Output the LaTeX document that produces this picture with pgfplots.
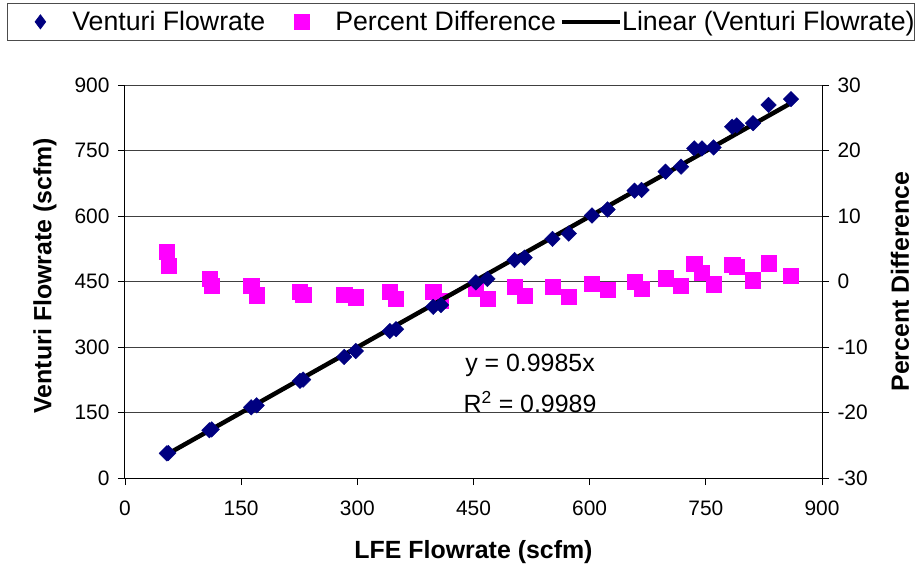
\documentclass[border=0pt]{standalone}
\usepackage{fontspec}
\setmainfont{Liberation Sans}
\usepackage{pgfplots}
\pgfplotsset{compat=1.18}
\definecolor{navy}{RGB}{0,0,128}
\definecolor{pinkm}{RGB}{255,0,255}
\pgfplotsset{
  trendlegend/.style={legend image code/.code={%
    \path[draw=none,fill=none] (0bp,0bp) -- (66bp,0bp);
    \draw[##1] (6bp,0bp) -- (64bp,0bp);}},
  diamondlegend/.style={legend image code/.code={%
    \path[draw=none,fill=none] (0bp,0bp) -- (65bp,0bp);
    \draw[##1] plot coordinates {(33bp,0bp)};}},
  squarelegend/.style={legend image code/.code={%
    \path[draw=none,fill=none] (0bp,0bp) -- (70bp,0bp);
    \draw[##1] plot coordinates {(37bp,0bp)};}},
}

\begin{document}
\begin{tikzpicture}
% LFE flowrate (scfm), percent difference, venturi flowrate (scfm)
\pgfplotstableread{
x pct ven
54 4.5 56.4
56 2.4 57.3
109 0.4 109.4
112 -0.7 111.2
163 -0.7 161.9
170 -2.1 166.4
226 -1.6 222.4
230 -2.0 225.4
283 -2.0 277.3
298 -2.4 290.8
342 -1.6 336.5
350 -2.6 340.9
398 -1.5 392.0
408 -2.9 396.2
453 -1.1 448.0
468 -2.6 455.8
503 -0.8 499.0
516 -2.2 504.6
552 -0.8 547.6
573 -2.3 559.8
603 -0.3 601.2
623 -1.3 614.9
658 0.0 658.0
667 -1.1 659.7
698 0.5 701.5
718 -0.7 713.0
735 2.7 754.8
745 1.3 754.7
760 -0.4 757.0
784 2.6 804.4
790 2.2 807.4
811 0.2 812.6
831 2.8 854.3
860 0.9 867.7
}\datatable

\pgfplotsset{
  common/.style={
    scale only axis, width=697bp, height=393bp,
    xmin=0, xmax=900,
    tick align=outside, major tick length=7bp,
    tick style={black, line width=0.8bp},
    axis line style={black, line width=1bp},
    tick label style={font=\fontsize{21}{24}\selectfont},
    /pgf/number format/assume math mode=true,
    label style={font=\fontsize{25}{28}\selectfont\bfseries},
  }
}

% Right axis: percent difference (drawn first, grid underneath)
\begin{axis}[common,
  ymin=-30, ymax=30, ytick={-30,-20,...,30},
  axis y line*=right, axis x line=none,
  yticklabel style={xshift=5bp},
  ymajorgrids, grid style={black!75, line width=0.9bp},
  ylabel={Percent Difference},
  ylabel style={at={(axis description cs:1.112,0.5)}, anchor=center, rotate=0},
]
\addplot[only marks, mark=square*, mark size=7.6bp,
  mark options={fill=pinkm, draw=pinkm}] table[x=x, y=pct] {\datatable};
\end{axis}

% Left axis: venturi flowrate
\begin{axis}[common,
  ymin=0, ymax=900, ytick={0,150,...,900}, xtick={0,150,...,900},
  axis y line*=left, axis x line*=bottom,
  yticklabel style={xshift=-5bp},
  xticklabel style={yshift=-12bp},
  xlabel={LFE Flowrate (scfm)},
  xlabel style={at={(axis description cs:0.5,-0.188)}, anchor=center},
  ylabel={Venturi Flowrate (scfm)},
  ylabel style={at={(axis description cs:-0.115,0.515)}, anchor=center},
  legend columns=3,
  legend cell align=left,
  legend style={at={(-0.1693,1.2087)}, anchor=north west, draw=black!70, line width=0.8bp,
    font=\fontsize{26.8}{30}\selectfont, inner xsep=0bp, inner ysep=8bp,
    nodes={inner sep=0bp}, column sep=0bp},
]
\addlegendimage{only marks, mark=diamond*, mark size=7bp, mark options={fill=navy, draw=navy}, diamondlegend}
\addlegendentry{Venturi Flowrate}
\addlegendimage{only marks, mark=square*, mark size=7.5bp, mark options={fill=pinkm, draw=pinkm}, squarelegend}
\addlegendentry{Percent Difference}
\addlegendimage{black, line width=4.5bp, trendlegend}
\addlegendentry{Linear (Venturi Flowrate)}

\addplot[only marks, mark=square*, mark size=5.5bp,
  mark options={fill=navy, draw=navy, rotate=45}, forget plot] table[x=x, y=ven] {\datatable};
\addplot[black, line width=4.5bp, forget plot] coordinates {(54,53.9) (860,858.7)};

\node[font=\fontsize{25}{28}\selectfont] at (axis cs:523,259) {y = 0.9985x};
\node[font=\fontsize{25}{28}\selectfont] at (axis cs:523,174) {R\textsuperscript{2} = 0.9989};
\end{axis}
\pgfresetboundingbox
\path[use as bounding box] (-125bp,-91bp) rectangle (795bp,478bp);
\end{tikzpicture}
\end{document}
